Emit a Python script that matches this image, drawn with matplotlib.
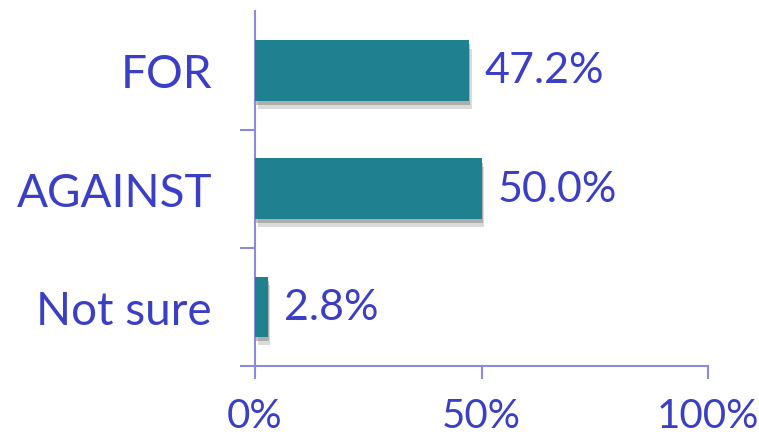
import matplotlib.pyplot as plt
import matplotlib.patheffects as pe
from matplotlib.ticker import FixedLocator, NullFormatter

categories = ['FOR', 'AGAINST', 'Not sure']
values = [47.2, 50.0, 2.8]
xticks = [0, 50, 100]
xtick_labels = ['0%', '50%', '100%']

text_color = '#3A3FC6'
axis_color = '#8C8CDC'
bar_color = '#1F8090'

plt.rcParams['font.family'] = ['Lato', 'DejaVu Sans']

fig = plt.figure(figsize=(7.59, 4.35), dpi=100)
ax = fig.add_axes([0.336, 0.156, 0.597, 0.816])

pos = list(range(len(categories)))
bars = ax.barh(pos, values, height=0.51, color=bar_color, zorder=3)
for b in bars:
    b.set_path_effects([
        pe.SimplePatchShadow(offset=(2, -6), shadow_rgbFace='#999999', alpha=0.35),
        pe.SimplePatchShadow(offset=(1, -3), shadow_rgbFace='#777777', alpha=0.45),
        pe.Normal(),
    ])

for p, v in zip(pos, values):
    ax.text(v + 3.5, p, f'{v:.1f}%', va='center', ha='left', fontsize=31, color=text_color)

ax.set_xlim(0, 100)
ax.set_ylim(2.5, -0.5)

# category labels on minor ticks, boundary marks on major ticks
ax.yaxis.set_major_locator(FixedLocator([0.5, 1.5, 2.5]))
ax.yaxis.set_major_formatter(NullFormatter())
ax.yaxis.set_minor_locator(FixedLocator(pos))
ax.set_yticklabels(categories, minor=True)
ax.tick_params(axis='y', which='major', length=11, width=1.5, color=axis_color, direction='out')
ax.tick_params(axis='y', which='minor', length=0, pad=31, labelsize=33, labelcolor=text_color)

ax.set_xticks(xticks)
ax.set_xticklabels(xtick_labels)
ax.tick_params(axis='x', length=9, width=1.5, color=axis_color, direction='out', pad=13,
               labelsize=29, labelcolor=text_color)

for side in ['top', 'right']:
    ax.spines[side].set_visible(False)
for side in ['left', 'bottom']:
    ax.spines[side].set_color(axis_color)
    ax.spines[side].set_linewidth(1.5)

fig.savefig('out.png', dpi=100)
